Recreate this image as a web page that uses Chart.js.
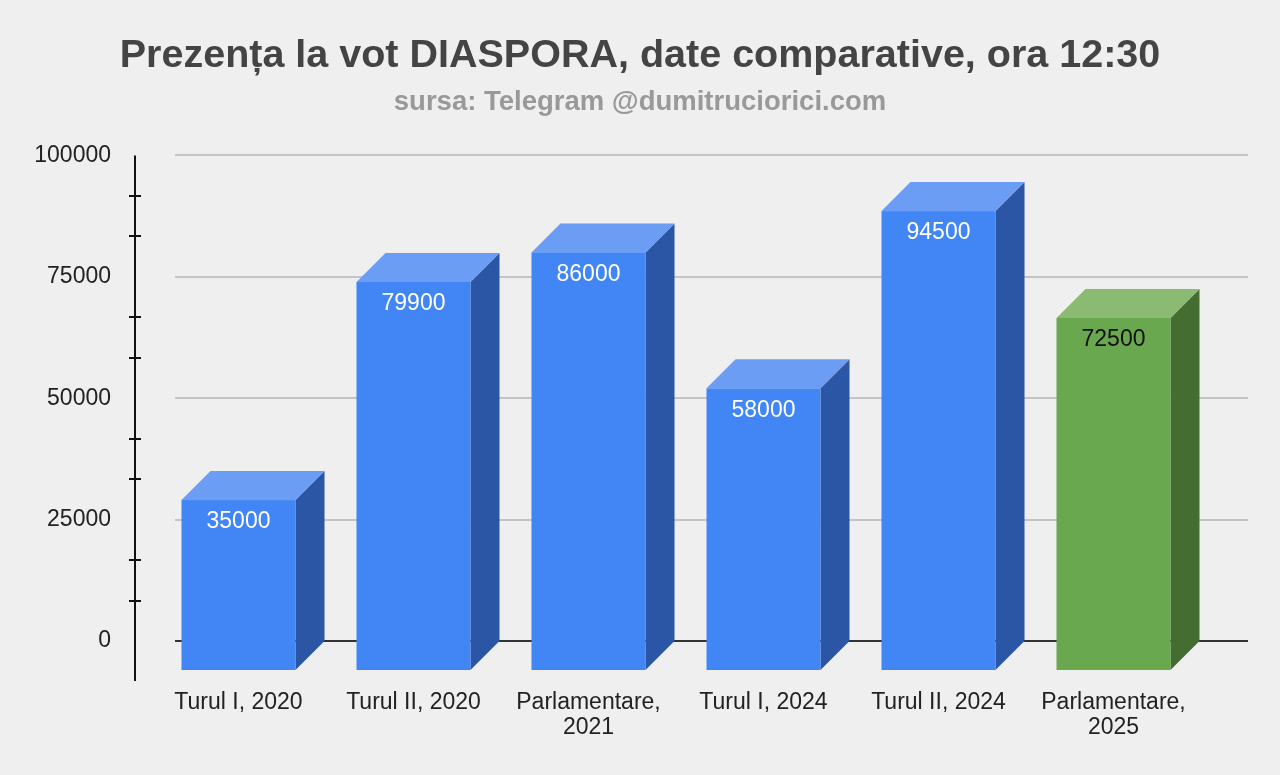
<!DOCTYPE html>
<html>
<head>
<meta charset="utf-8">
<script src="https://cdn.jsdelivr.net/npm/chart.js@4"></script>
<style>
    html, body { margin: 0; padding: 0; background: #efefef; }
</style>
</head>
<body>
<canvas id="diasporaChart" width="1280" height="775"></canvas>
<script>
// data
var categories = [
    ['Turul I, 2020'],
    ['Turul II, 2020'],
    ['Parlamentare,', '2021'],
    ['Turul I, 2024'],
    ['Turul II, 2024'],
    ['Parlamentare,', '2025']
];
var turnout = [35000, 79900, 86000, 58000, 94500, 72500];
var yTicks = [0, 25000, 50000, 75000, 100000];

// colours for the three faces of each box
var frontColors = ['#4285f4', '#4285f4', '#4285f4', '#4285f4', '#4285f4', '#6aa84f'];
var topColors = ['#6b9df5', '#6b9df5', '#6b9df5', '#6b9df5', '#6b9df5', '#8bbb72'];
var sideColors = ['#2b56a5', '#2b56a5', '#2b56a5', '#2b56a5', '#2b56a5', '#446d32'];
var labelColors = ['#ffffff', '#ffffff', '#ffffff', '#ffffff', '#ffffff', '#111111'];

const FONT = "'Liberation Sans', Arial, Helvetica, sans-serif";
const depth = 29;

// grid, y axis line and the fake 3D boxes
const bar3d = {
    id: 'bar3d',
    beforeDatasetsDraw(chart) {
        const ctx = chart.ctx;
        const area = chart.chartArea;
        const y = chart.scales.y;
        ctx.save();
        ctx.lineWidth = 2;
        for (let i = 0; i < yTicks.length; i++) {
            const py = Math.round(y.getPixelForValue(yTicks[i]));
            ctx.strokeStyle = yTicks[i] === 0 ? '#333333' : '#c4c4c4';
            ctx.beginPath();
            ctx.moveTo(area.left - 5, py);
            ctx.lineTo(area.right + 18, py);
            ctx.stroke();
        }
        // left axis with minor ticks
        const ax = area.left - 45;
        const top = y.getPixelForValue(yTicks[yTicks.length - 1]);
        const bottom = y.getPixelForValue(0) + 40;
        ctx.strokeStyle = '#111111';
        ctx.beginPath();
        ctx.moveTo(ax, top);
        ctx.lineTo(ax, bottom);
        ctx.stroke();
        const step = (yTicks[1] - yTicks[0]) / 3;
        for (let k = 1; k < (yTicks.length - 1) * 3; k++) {
            if (k % 3 === 0) continue;
            const py = Math.round(y.getPixelForValue(k * step));
            ctx.beginPath();
            ctx.moveTo(ax - 6, py);
            ctx.lineTo(ax + 6, py);
            ctx.stroke();
        }
        ctx.restore();
    },
    beforeDatasetDraw() {
        return false; // boxes are painted below
    },
    afterDatasetsDraw(chart) {
        const ctx = chart.ctx;
        const meta = chart.getDatasetMeta(0);
        ctx.save();
        meta.data.forEach(function (el, i) {
            const left = el.x - el.width / 2;
            const right = el.x + el.width / 2;
            const top = el.y;
            const base = el.base;
            const fl = left - depth, fr = right - depth, ft = top + depth, fb = base + depth;

            ctx.fillStyle = sideColors[i];
            ctx.beginPath();
            ctx.moveTo(fr, ft);
            ctx.lineTo(right, top);
            ctx.lineTo(right, base);
            ctx.lineTo(fr, fb);
            ctx.closePath();
            ctx.fill();

            ctx.fillStyle = topColors[i];
            ctx.beginPath();
            ctx.moveTo(fl, ft);
            ctx.lineTo(left, top);
            ctx.lineTo(right, top);
            ctx.lineTo(fr, ft);
            ctx.closePath();
            ctx.fill();

            ctx.fillStyle = frontColors[i];
            ctx.fillRect(fl, ft, fr - fl, fb - ft);

            ctx.fillStyle = labelColors[i];
            ctx.font = '23px ' + FONT;
            ctx.textAlign = 'center';
            ctx.textBaseline = 'middle';
            ctx.fillText(String(turnout[i]), (fl + fr) / 2, ft + 22);
        });
        ctx.restore();
    }
};

new Chart(document.getElementById('diasporaChart'), {
    type: 'bar',
    data: {
        labels: categories,
        datasets: [{
            data: turnout,
            backgroundColor: frontColors,
            barPercentage: 114 / 175,
            categoryPercentage: 1
        }]
    },
    options: {
        responsive: false,
        animation: false,
        layout: { padding: { left: 30, right: 30, top: 0, bottom: 0 } },
        plugins: {
            legend: { display: false },
            tooltip: { enabled: false },
            title: {
                display: true,
                text: 'Prezența la vot DIASPORA, date comparative, ora 12:30',
                color: '#444444',
                font: { family: FONT, size: 39.5, weight: 'bold', lineHeight: 1.2 },
                padding: { top: 32, bottom: 7 }
            },
            subtitle: {
                display: true,
                text: 'sursa: Telegram @dumitruciorici.com',
                color: '#999999',
                font: { family: FONT, size: 27.5, weight: 'bold', lineHeight: 1.2 },
                padding: { top: 0, bottom: 36 }
            }
        },
        scales: {
            x: {
                grid: { display: false, drawTicks: false },
                border: { display: false },
                ticks: {
                    color: '#222222',
                    font: { family: FONT, size: 23, lineHeight: 1.05 },
                    padding: 50,
                    labelOffset: -depth,
                    autoSkip: false,
                    maxRotation: 0
                },
                afterFit: function (scale) { scale.height = 134; }
            },
            y: {
                min: 0,
                max: 100000,
                grid: { display: false, drawTicks: false },
                border: { display: false },
                ticks: {
                    stepSize: 25000,
                    color: '#222222',
                    font: { family: FONT, size: 23 },
                    padding: 69,
                    callback: function (v) { return String(v); }
                },
                afterFit: function (scale) { scale.width = 150; }
            },
            // empty right axis, only keeps the plot narrower so the title stays centred on the page
            yRight: {
                position: 'right',
                min: 0,
                max: 100000,
                grid: { display: false, drawTicks: false },
                border: { display: false },
                ticks: { display: false },
                afterFit: function (scale) { scale.width = 20; }
            }
        }
    },
    plugins: [bar3d]
});
</script>
</body>
</html>
